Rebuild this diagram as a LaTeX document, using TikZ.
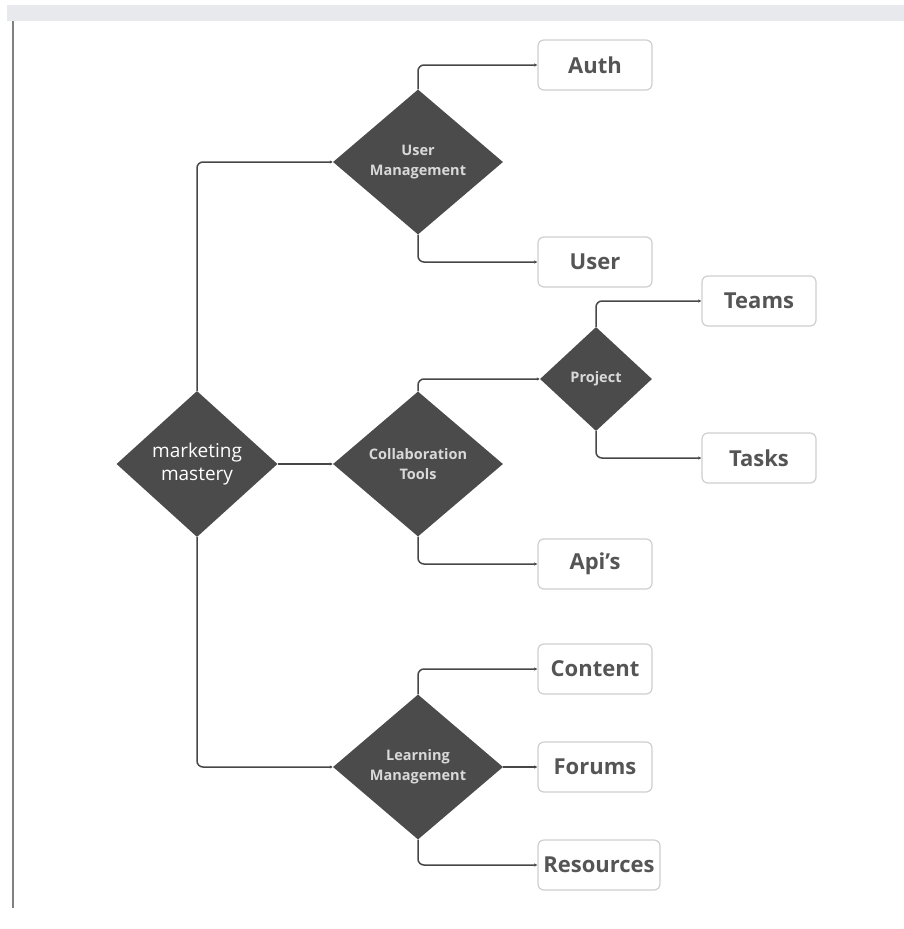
\documentclass[tikz,border=0pt]{standalone}
\usepackage{fontspec}
\setmainfont{Open Sans}
\usetikzlibrary{shapes.geometric,arrows.meta}

\definecolor{hubfill}{HTML}{4B4B4B}
\definecolor{boxline}{HTML}{CFCFCF}
\definecolor{leaftext}{HTML}{555555}
\definecolor{linkcol}{HTML}{474747}
\definecolor{barcol}{HTML}{E8E9EC}

\tikzset{
  hub/.style={diamond, fill=hubfill, inner sep=0pt, minimum width=170pt,
    minimum height=145pt, align=center, text=white!85!black,
    font=\fontsize{14.5}{20}\selectfont\bfseries},
  leaf/.style={rectangle, rounded corners=6pt, draw=boxline, line width=1.2pt,
    fill=white, minimum width=114pt, minimum height=50pt, text=leaftext,
    font=\fontsize{22}{26}\selectfont\bfseries},
  link/.style={draw=linkcol, line width=1.5pt, rounded corners=6pt,
    -{Latex[length=3pt,width=3.5pt]}},
}

\begin{document}
\begin{tikzpicture}[x=1pt,y=-1pt]
  \useasboundingbox (0,0) rectangle (904,929);
  % frame of the screenshot
  \fill[barcol] (7,5) rectangle (904,21);
  \draw[gray, line width=1.5pt] (13,21) -- (13,908);

  % diamonds
  \node[hub, minimum width=161pt, minimum height=146pt, text=white,
    font=\fontsize{19}{23}\selectfont] (mm) at (197,464) {marketing\\mastery};
  \node[hub] (um) at (418,162) {User\\Management};
  \node[hub] (ct) at (418,464) {Collaboration\\Tools};
  \node[hub] (lm) at (418,767) {Learning\\Management};
  \node[hub, minimum width=112pt, minimum height=104pt] (proj) at (596,379) {Project};

  % boxes
  \node[leaf] (auth) at (595,65) {Auth};
  \node[leaf] (user) at (595,262) {User};
  \node[leaf] (teams) at (759,301) {Teams};
  \node[leaf] (tasks) at (759,458) {Tasks};
  \node[leaf] (apis) at (595,564) {Api’s};
  \node[leaf] (content) at (595,669) {Content};
  \node[leaf] (forums) at (595,767) {Forums};
  \node[leaf, minimum width=122pt] (res) at (599,865) {Resources};

  % connectors
  \draw[link] (mm.north) |- (um.west);
  \draw[link] (mm.east) -- (ct.west);
  \draw[link] (mm.south) |- (lm.west);
  \draw[link] (um.north) |- (auth.west);
  \draw[link] (um.south) |- (user.west);
  \draw[link] (ct.north) |- (proj.west);
  \draw[link] (ct.south) |- (apis.west);
  \draw[link] (proj.north) |- (teams.west);
  \draw[link] (proj.south) |- (tasks.west);
  \draw[link] (lm.north) |- (content.west);
  \draw[link] (lm.east) -- (forums.west);
  \draw[link] (lm.south) |- (res.west);
\end{tikzpicture}
\end{document}
